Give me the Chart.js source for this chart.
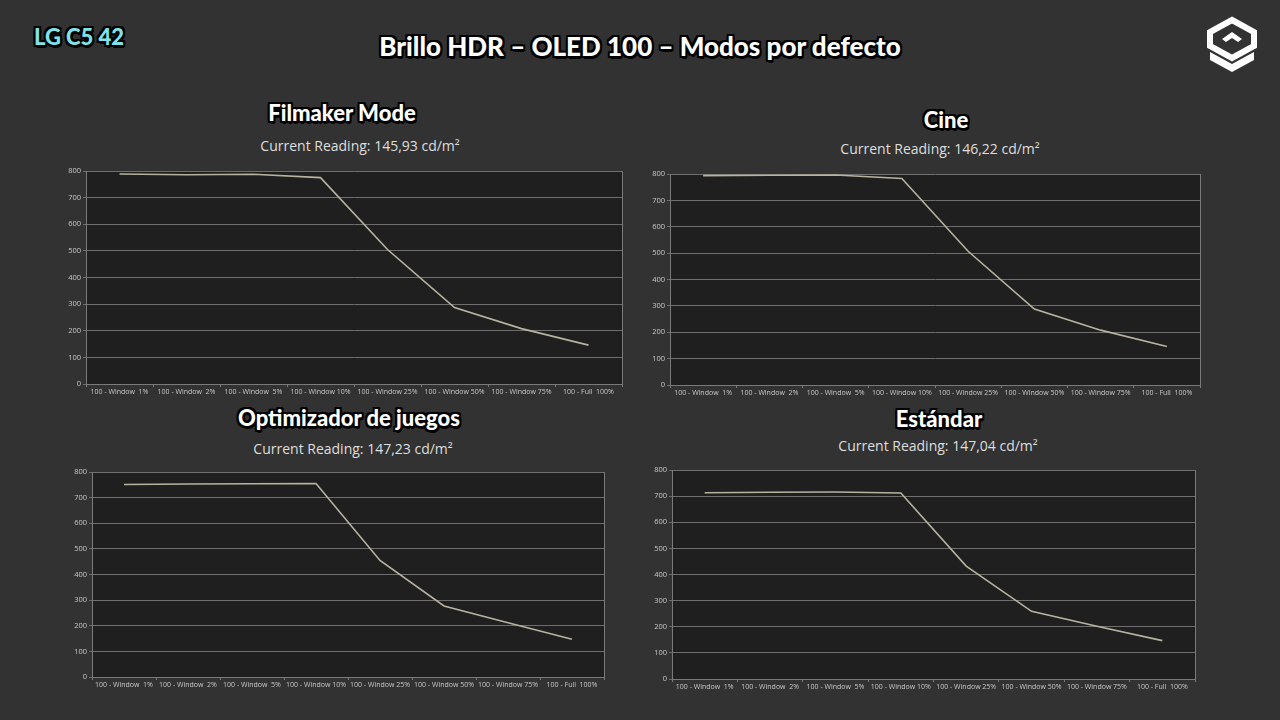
<!DOCTYPE html>
<html>
<head>
<meta charset="utf-8">
<script src="https://cdn.jsdelivr.net/npm/chart.js@4.4.1/dist/chart.umd.min.js"></script>
<style>
  html,body{margin:0;padding:0;background:#323232;}
  #stage{position:relative;width:1280px;height:720px;overflow:hidden;background:#323232;font-family:"Open Sans",sans-serif;}
  canvas{position:absolute;}
  .t{position:absolute;transform:translate(-50%,-50%);white-space:nowrap;}
  .big{font-family:"Lato","Open Sans",sans-serif;font-weight:900;color:#fff;
    text-shadow:-2px -2px 0 #000,2px -2px 0 #000,-2px 2px 0 #000,2px 2px 0 #000,0 -2px 0 #000,0 2px 0 #000,-2px 0 0 #000,2px 0 0 #000,1px 3px 0 #000;}
  .main{font-size:26px;}
  .sub{font-size:22px;}
  .rd{font-size:14px;color:#dedede;}
  .lg{font-size:22px;color:#7fe3ea;}
</style>
</head>
<body>
<div id="stage">
  <div class="t big main" style="left:640px;top:46px;">Brillo HDR – OLED 100 – Modos por defecto</div>
  <div class="t big lg" style="left:79px;top:36px;">LG C5 42</div>
  <svg style="position:absolute;left:1204px;top:16px;" width="56" height="60" viewBox="0 0 56 60">
    <polygon points="28,4 50,16 50,30 28,42 6,30 6,16" fill="none" stroke="#fff" stroke-width="6" stroke-linejoin="miter"/>
    <polygon points="28,16 38,23 34,26 28,22 22,26 18,23" fill="#fff"/>
    <polygon points="6,36 28,48 50,36 50,44 28,56 6,44" fill="#fff"/>
  </svg>

  <div class="t big sub" style="left:342px;top:112px;">Filmaker Mode</div>
  <div class="t rd" style="left:360px;top:145px;">Current Reading: 145,93 cd/m²</div>
  <div class="t big sub" style="left:946px;top:119px;">Cine</div>
  <div class="t rd" style="left:940px;top:148px;">Current Reading: 146,22 cd/m²</div>
  <div class="t big sub" style="left:349px;top:417px;">Optimizador de juegos</div>
  <div class="t rd" style="left:353px;top:448px;">Current Reading: 147,23 cd/m²</div>
  <div class="t big sub" style="left:939px;top:418px;">Estándar</div>
  <div class="t rd" style="left:938px;top:445px;">Current Reading: 147,04 cd/m²</div>

  <canvas id="c1"></canvas>
  <canvas id="c2"></canvas>
  <canvas id="c3"></canvas>
  <canvas id="c4"></canvas>
</div>
<script>
const categories = ["100 - Window  1%", "100 - Window  2%", "100 - Window  5%", "100 - Window 10%", "100 - Window 25%", "100 - Window 50%", "100 - Window 75%", "100 - Full  100%"];
const filmakerValues    = [789, 786, 788, 775, 505, 287, 208, 146];
const cineValues        = [794, 795, 796, 783, 507, 288, 208, 146];
const optimizadorValues = [751, 753, 754, 755, 455, 277, 212, 147];
const estandarValues    = [713, 715, 716, 712, 432, 259, 202, 147];
const yTicks = [0, 100, 200, 300, 400, 500, 600, 700, 800];

const panels = [
  {id:'c1', data: filmakerValues,    l:86,  t:171, r:622,  b:384},
  {id:'c2', data: cineValues,        l:670, t:174, r:1200, b:385},
  {id:'c3', data: optimizadorValues, l:92,  t:472, r:604,  b:677},
  {id:'c4', data: estandarValues,    l:672, t:470, r:1195, b:679}
];

const YW = 30, XH = 16, PT = 8, PR = 6;

const areaPlugin = {
  id:'area',
  beforeDraw(chart){
    const {ctx, chartArea:a} = chart;
    ctx.save();
    ctx.fillStyle = '#1f1f1f';
    ctx.fillRect(a.left, a.top, a.right - a.left, a.bottom - a.top);
    ctx.restore();
  },
  afterDraw(chart){
    const {ctx, chartArea:a} = chart;
    ctx.save();
    ctx.strokeStyle = '#7a7a7a';
    ctx.lineWidth = 1;
    ctx.beginPath();
    ctx.moveTo(Math.round(a.right)+0.5, a.top);
    ctx.lineTo(Math.round(a.right)+0.5, a.bottom);
    ctx.stroke();
    ctx.restore();
  }
};

panels.forEach(p => {
  const cv = document.getElementById(p.id);
  const w = (p.r - p.l) + YW + PR;
  const h = (p.b - p.t) + PT + XH;
  cv.style.left = (p.l - YW) + 'px';
  cv.style.top = (p.t - PT) + 'px';
  cv.width = w; cv.height = h;
  cv.style.width = w + 'px'; cv.style.height = h + 'px';
  new Chart(cv, {
    type:'line',
    data:{labels:categories, datasets:[{data:p.data, borderColor:'#b8b39f', borderWidth:1.6, pointRadius:0, tension:0, fill:false}]},
    options:{
      responsive:false, animation:false, devicePixelRatio:1,
      layout:{padding:{top:PT, right:PR, left:0, bottom:0}},
      plugins:{legend:{display:false}, tooltip:{enabled:false}},
      scales:{
        x:{
          offset:true,
          afterFit(s){ s.height = XH; },
          grid:{offset:true, drawOnChartArea:false, drawTicks:true, tickLength:3, color:'#7a7a7a'},
          border:{display:true, color:'#7a7a7a'},
          ticks:{autoSkip:false, maxRotation:0, minRotation:0, padding:1, color:'#c8c8c8', font:{family:'"Open Sans", sans-serif', size:7}}
        },
        y:{
          min:0, max:800,
          afterFit(s){ s.width = YW; },
          afterBuildTicks(s){ s.ticks = yTicks.map(v => ({value:v})); },
          grid:{color:'#6e6e6e', lineWidth:1, tickLength:3, drawTicks:true},
          border:{display:true, color:'#7a7a7a'},
          ticks:{padding:2, color:'#c8c8c8', font:{family:'"Open Sans", sans-serif', size:7.5}}
        }
      }
    },
    plugins:[areaPlugin]
  });
});
</script>
</body>
</html>
